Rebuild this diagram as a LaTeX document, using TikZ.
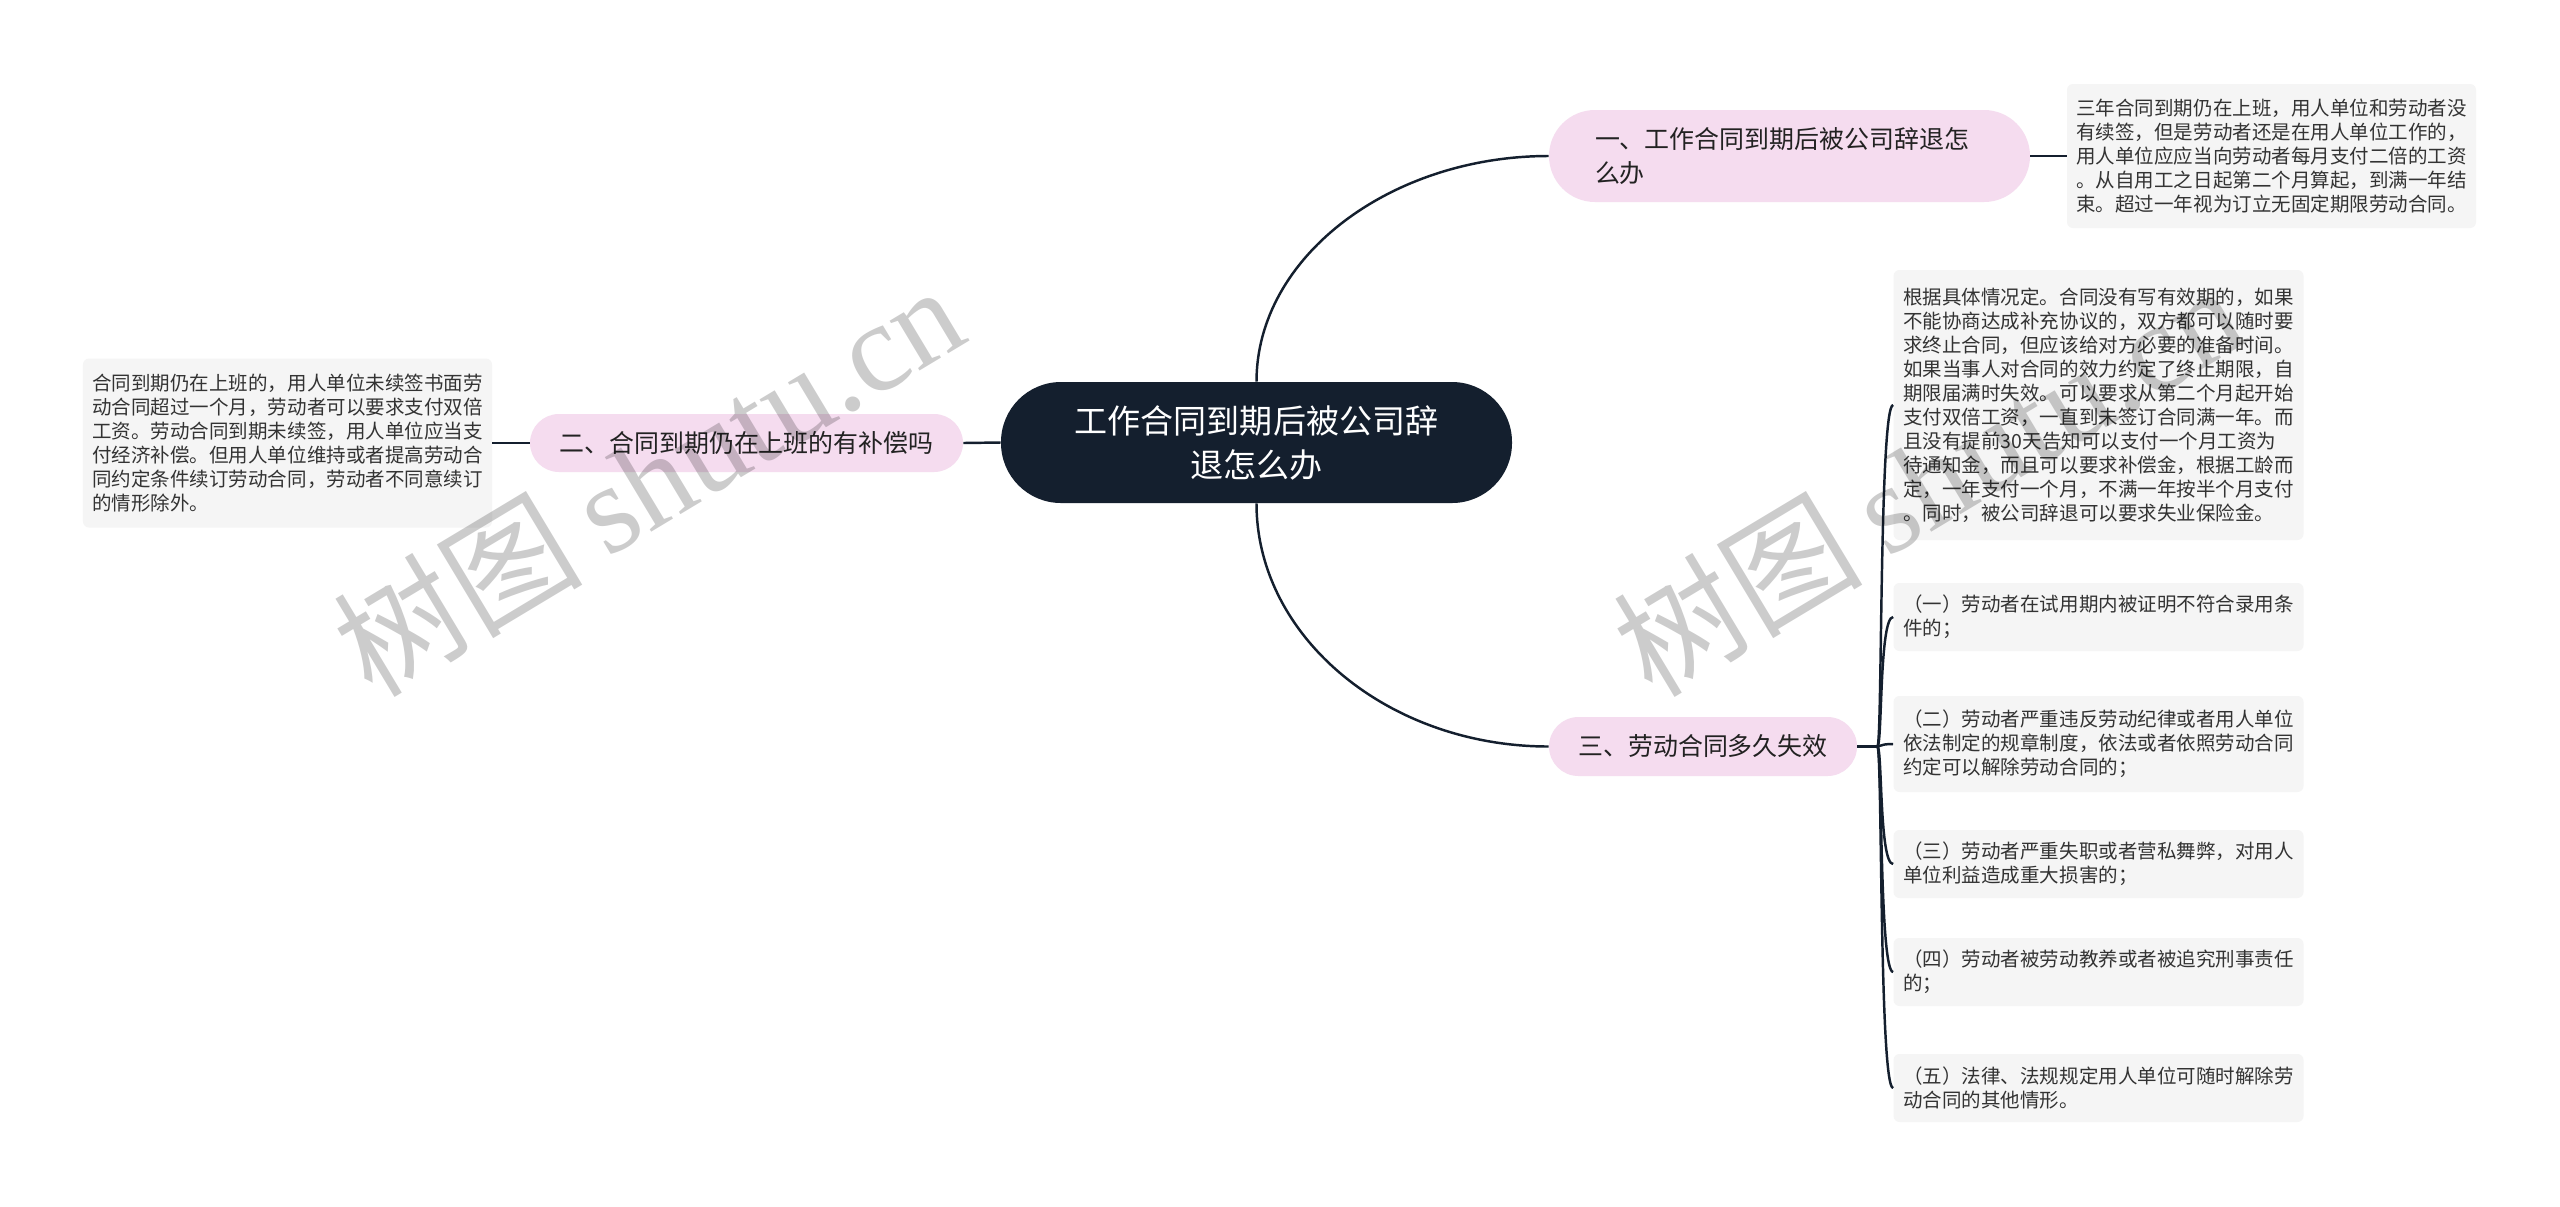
\documentclass[tikz,border=0pt]{standalone}
\usepackage{fontspec}
\newfontfamily\cjk{Noto Sans CJK SC}
\newfontfamily\wmserif{Liberation Serif}
\usetikzlibrary{calc}
\definecolor{rootc}{HTML}{141F2E}
\definecolor{pinkc}{HTML}{F5DCEF}
\definecolor{leafc}{HTML}{F5F5F5}
\definecolor{linec}{HTML}{141F2E}
\definecolor{leaftext}{HTML}{333333}
\definecolor{brtext}{HTML}{222222}
\begin{document}
\begin{tikzpicture}[x=0.2mm,y=-0.2mm,
  rootnode/.style={fill=rootc, text=white, rounded corners=12mm, minimum width=102.2mm, minimum height=24.2mm, inner sep=0pt, align=center, font={\cjk\fontsize{18.8pt}{25pt}\selectfont}},
  branchnode/.style={fill=pinkc, text=brtext, inner sep=0pt, font={\cjk\fontsize{14.2pt}{19.3pt}\selectfont}},
  leafnode/.style={fill=leafc, text=leaftext, rounded corners=1.2mm, inner sep=0pt, align=left, minimum width=82mm, font={\cjk\fontsize{11.1pt}{13.66pt}\selectfont}},
  conn/.style={draw=linec, line width=1.4pt},
  wm/.style={text=black, text opacity=0.2, inner sep=0pt}
]
\fill[white] (0,0) rectangle (2560,1206);
\useasboundingbox (0,0) rectangle (2560,1206);

% root
\node[rootnode] (root) at (1256.5,442.5) {工作合同到期后被公司辞\\退怎么办};

% branches
\node[branchnode, rounded corners=9.2mm, minimum width=96.2mm, minimum height=18.4mm, text width=77.8mm, align=left] (b1) at (1789.5,156) {一、工作合同到期后被公司辞退怎\\么办};
\node[branchnode, rounded corners=5.8mm, minimum width=86.6mm, minimum height=11.6mm] (b2) at (746.5,443) {二、合同到期仍在上班的有补偿吗};
\node[branchnode, rounded corners=5.9mm, minimum width=61.6mm, minimum height=11.8mm] (b3) at (1703,746.5) {三、劳动合同多久失效};

% leaves
\node[leafnode, minimum width=81.8mm, minimum height=28.8mm] (l1) at (2271.5,156) {三年合同到期仍在上班，用人单位和劳动者没\\有续签，但是劳动者还是在用人单位工作的，\\用人单位应应当向劳动者每月支付二倍的工资\\。从自用工之日起第二个月算起，到满一年结\\束。超过一年视为订立无固定期限劳动合同。};

\node[leafnode, minimum width=81.8mm, minimum height=33.8mm] (l2) at (287.5,443) {合同到期仍在上班的，用人单位未续签书面劳\\动合同超过一个月，劳动者可以要求支付双倍\\工资。劳动合同到期未续签，用人单位应当支\\付经济补偿。但用人单位维持或者提高劳动合\\同约定条件续订劳动合同，劳动者不同意续订\\的情形除外。};

\node[leafnode, minimum height=54mm] (l3) at (2098.5,405) {根据具体情况定。合同没有写有效期的，如果\\不能协商达成补充协议的，双方都可以随时要\\求终止合同，但应该给对方必要的准备时间。\\如果当事人对合同的效力约定了终止期限，自\\期限届满时失效。可以要求从第二个月起开始\\支付双倍工资，一直到未签订合同满一年。而\\且没有提前30天告知可以支付一个月工资为\\待通知金，而且可以要求补偿金，根据工龄而\\定，一年支付一个月，不满一年按半个月支付\\。同时，被公司辞退可以要求失业保险金。};

\node[leafnode, minimum height=13.6mm] (l4) at (2098.5,617) {（一）劳动者在试用期内被证明不符合录用条\\件的；};
\node[leafnode, minimum height=19.2mm] (l5) at (2098.5,744) {（二）劳动者严重违反劳动纪律或者用人单位\\依法制定的规章制度，依法或者依照劳动合同\\约定可以解除劳动合同的；};
\node[leafnode, minimum height=13.6mm] (l6) at (2098.5,864) {（三）劳动者严重失职或者营私舞弊，对用人\\单位利益造成重大损害的；};
\node[leafnode, minimum height=13.6mm] (l7) at (2098.5,972) {（四）劳动者被劳动教养或者被追究刑事责任\\的；};
\node[leafnode, minimum height=13.6mm] (l8) at (2098.5,1088) {（五）法律、法规规定用人单位可随时解除劳\\动合同的其他情形。};

% connectors
\draw[conn] (root.north) .. controls +(0,-125) and +(-158,0) .. (b1.west);
\draw[conn] (root.south) .. controls +(0,134) and +(-160,0) .. (b3.west);
\draw[conn] (root.west) -- (b2.east);
\draw[conn] (b2.west) -- (l2.east);
\draw[conn] (b1.east) -- (l1.west);
\coordinate (j) at ($(b3.east)+(20,0)$);
\draw[conn] (b3.east) -- (j);
\foreach \t in {l3,l4,l5,l6,l7,l8}{
  \draw[conn] (j) .. controls +(5,0) and +(-14,0) .. (\t.west);
}

% watermarks
\node[wm, rotate=31, anchor=base west] (wm1) at (372,700) {{\cjk\fontsize{71pt}{71pt}\selectfont 树图}\hspace{14pt}{\wmserif\fontsize{72pt}{72pt}\selectfont shutu.cn}};
\node[wm, rotate=31, anchor=base west] (wm2) at (1652,700) {{\cjk\fontsize{71pt}{71pt}\selectfont 树图}\hspace{14pt}{\wmserif\fontsize{72pt}{72pt}\selectfont shutu.cn}};
\end{tikzpicture}
\end{document}
